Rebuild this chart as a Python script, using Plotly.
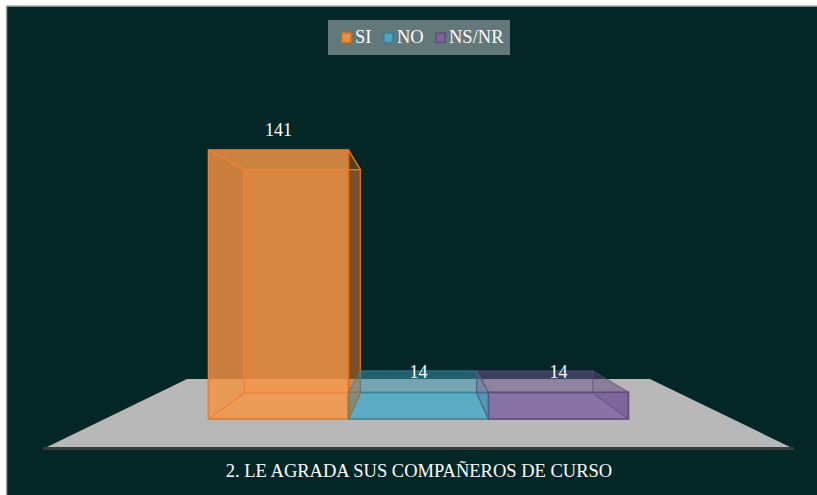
import plotly.graph_objects as go

# Data
series_names = ["SI", "NO", "NS/NR"]
series_values = [141, 14, 14]
value_labels = ["141", "14", "14"]
chart_title = "2. LE AGRADA SUS COMPAÑEROS DE CURSO"

# Style
W, H = 817, 495
FONT = "Liberation Serif"
BG = "#032627"
face_rgb = [(247, 150, 70), (75, 172, 198), (128, 100, 162)]
line_rgb = [(228, 108, 10), (49, 133, 156), (96, 74, 123)]
inner_line = ["rgba(247,130,50,0.85)", "rgba(49,133,156,0.4)", "rgba(96,74,123,0.4)"]
side_rgb = [(185, 95, 25), (49, 133, 156), (96, 74, 123)]
side_alpha = [0.38, 0.30, 0.30]
side_line = ["rgba(228,108,10,0.9)", "rgba(49,133,156,0.35)", "rgba(96,74,123,0.35)"]
top_alpha = [0.05, 0.30, 0.30]
legend_swatch_px = [341, 383, 435]
legend_text_px = [355, 397, 449]

# Pixel frame of the value axes (drawn by plotly's own scales)
PX_PER_CAT = 140.0
PX_PER_VAL = 269.0 / 141.0
X0_PX, BASE_PX = 208.5, 419.0
xrange = [-0.5 - X0_PX / PX_PER_CAT, -0.5 + (W - X0_PX) / PX_PER_CAT]
yrange = [-(H - BASE_PX) / PX_PER_VAL, BASE_PX / PX_PER_VAL]

# Perspective of the back wall
SCALE = 0.83
CX = 1.0
BACK_BASE = 26.0 / PX_PER_VAL
LABEL_GAP = 10.0 / PX_PER_VAL


def back(x, y):
    return CX + (x - CX) * SCALE, BACK_BASE + y * SCALE


def rgba(c, a):
    return f"rgba({c[0]},{c[1]},{c[2]},{a})"


def face(pts, fill, line):
    xs = [p[0] for p in pts] + [pts[0][0]]
    ys = [p[1] for p in pts] + [pts[0][1]]
    return go.Scatter(x=xs, y=ys, mode="lines", fill="toself", fillcolor=fill,
                      line=dict(color=line, width=1.2), showlegend=False, hoverinfo="skip")


fig = go.Figure()

# Front faces: the real bars
for i, (name, val) in enumerate(zip(series_names, series_values)):
    fig.add_trace(go.Bar(x=[i], y=[val], width=1, name=name, showlegend=False,
                         marker=dict(color=rgba(face_rgb[i], 0.82),
                                     line=dict(color=rgba(line_rgb[i], 1), width=1.5))))

# Depth faces derived from the same values
for i, val in enumerate(series_values):
    l, r = i - 0.5, i + 0.5
    c, e = face_rgb[i], line_rgb[i]
    fl, fr = (l, 0), (r, 0)
    tl, tr = (l, val), (r, val)
    bfl, bfr, btl, btr = back(l, 0), back(r, 0), back(l, val), back(r, val)
    fig.add_trace(face([bfl, bfr, btr, btl], rgba(c, 0.33), inner_line[i]))
    fig.add_trace(face([fl, bfl, btl, tl], rgba(e, 0.03), inner_line[i]))
    fig.add_trace(face([fl, fr, bfr, bfl], rgba(c, 0.06), inner_line[i]))
    fig.add_trace(face([fr, bfr, btr, tr], rgba(side_rgb[i], side_alpha[i]), side_line[i]))
    fig.add_trace(face([tl, tr, btr, btl], rgba(c if i == 0 else e, top_alpha[i]), inner_line[i]))

# Value labels
fig.add_trace(go.Scatter(x=[0, 1, 2], y=[v + LABEL_GAP for v in series_values], mode="text",
                         text=value_labels, textposition="top center", showlegend=False, hoverinfo="skip",
                         textfont=dict(family=FONT, size=18, color="#ffffff")))


def px(x):
    return x / W


def py(y):
    return 1 - y / H


shapes = [
    dict(type="rect", xref="paper", yref="paper", x0=px(6.5), x1=px(W + 5), y0=py(H + 5), y1=py(6),
         fillcolor=BG, line=dict(color="#a8a8a8", width=1.5), layer="below"),
    dict(type="path", xref="paper", yref="paper", layer="below", fillcolor="#b8b8b8", line=dict(width=0),
         path=f"M {px(47)} {py(447)} L {px(187)} {py(379)} L {px(650)} {py(379)} L {px(790)} {py(447)} Z"),
    dict(type="rect", xref="paper", yref="paper", layer="below", x0=px(43), x1=px(794), y0=py(450), y1=py(447),
         fillcolor="#3a3a3a", line=dict(width=0)),
    dict(type="rect", xref="paper", yref="paper", layer="below", x0=px(328), x1=px(510), y0=py(55), y1=py(20),
         fillcolor="rgba(255,255,255,0.38)", line=dict(width=0)),
]
annotations = []
for i, name in enumerate(series_names):
    s = legend_swatch_px[i]
    shapes.append(dict(type="rect", xref="paper", yref="paper", layer="below",
                       x0=px(s + 1), x1=px(s + 10), y0=py(42.5), y1=py(33),
                       fillcolor=rgba(face_rgb[i], 0.9), line=dict(color=rgba(line_rgb[i], 1), width=1.5)))
    annotations.append(dict(xref="paper", yref="paper", x=px(legend_text_px[i]), y=py(37),
                            xanchor="left", yanchor="middle", text=name, showarrow=False,
                            borderpad=0, borderwidth=0,
                            font=dict(family=FONT, size=18.5, color="#ffffff")))

fig.update_layout(
    width=W, height=H, autosize=False,
    margin=dict(l=0, r=0, t=0, b=0),
    paper_bgcolor="#ffffff", plot_bgcolor="rgba(0,0,0,0)",
    barmode="overlay",
    shapes=shapes,
    annotations=annotations,
    xaxis=dict(range=xrange, visible=False, fixedrange=True),
    yaxis=dict(range=yrange, visible=False, fixedrange=True),
    font=dict(family=FONT, size=18, color="#ffffff"),
    showlegend=False,
    title=dict(text=chart_title, x=419 / W, xanchor="center", y=py(471), yanchor="middle",
               font=dict(family=FONT, size=18.5, color="#ffffff")),
)

fig.write_html("out.html", config={"displayModeBar": False},
               post_script="document.body.style.margin='0';document.body.style.overflow='hidden';")
